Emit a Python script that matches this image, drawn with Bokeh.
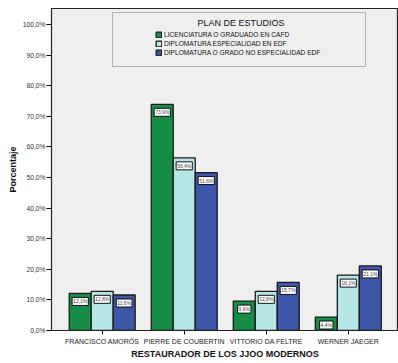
from bokeh.plotting import figure
from bokeh.models import (ColumnDataSource, FixedTicker, Range1d, Legend,
                          LegendItem, BoxAnnotation, Label)
from bokeh.core.properties import value
from bokeh.transform import dodge
from bokeh.embed import file_html
from bokeh.resources import INLINE

# ---- data ----
categories = ["FRANCISCO AMORÓS", "PIERRE DE COUBERTIN", "VITTORIO DA FELTRE", "WERNER JAEGER"]
series_names = ["LICENCIATURA O GRADUADO EN CAFD",
                "DIPLOMATURA ESPECIALIDAD EN EDF",
                "DIPLOMATURA O GRADO NO ESPECIALIDAD EDF"]
licenciatura_cafd = [12.1, 73.9, 9.6, 4.4]
diplomatura_esp_edf = [12.8, 56.4, 12.8, 18.1]
diplomatura_no_esp_edf = [11.6, 51.6, 15.7, 21.1]
y_ticks = [0, 10, 20, 30, 40, 50, 60, 70, 80, 90, 100]
y_tick_labels = ["0,0%", "10,0%", "20,0%", "30,0%", "40,0%", "50,0%",
                 "60,0%", "70,0%", "80,0%", "90,0%", "100,0%"]
legend_title = "PLAN DE ESTUDIOS"
x_title = "RESTAURADOR DE LOS JJOO MODERNOS"
y_title = "Porcentaje"

colors = ["#178c47", "#b6e6e6", "#3d56a8"]
FONT = "Liberation Sans"

xi = list(range(1, len(categories) + 1))

p = figure(width=398, height=363, output_backend="svg", toolbar_location=None,
           x_range=Range1d(0.382, 4.612), y_range=Range1d(0, 105.2),
           min_border_left=51, min_border_right=0, min_border_top=8, min_border_bottom=33)
p.background_fill_color = "#efefef"
p.border_fill_color = "white"
p.outline_line_color = "#222222"
p.outline_line_width = 1.2
p.xgrid.visible = False
p.ygrid.visible = False

bar_w = 0.268
renderers = []
for i, (vals, col) in enumerate(zip([licenciatura_cafd, diplomatura_esp_edf, diplomatura_no_esp_edf], colors)):
    src = ColumnDataSource(dict(
        x=xi, top=vals,
        lbl=[("%.1f%%" % v).replace(".", ",") for v in vals]))
    off = (i - 1) * bar_w
    r = p.vbar(x=dodge("x", off, range=p.x_range), top="top", width=bar_w, source=src,
               fill_color=col, line_color="#1a1a1a", line_width=1.3)
    renderers.append(r)
    p.text(x=dodge("x", off, range=p.x_range), y="top", text="lbl", source=src,
           y_offset=4, text_align="center", text_baseline="top",
           text_font=value(FONT), text_font_size=value("5px"), text_color="#444444",
           background_fill_color="white", border_line_color="#111111",
           border_line_width=1, padding=(1, 1))

# axes
p.xaxis.ticker = FixedTicker(ticks=xi)
p.xaxis.major_label_overrides = {x: c for x, c in zip(xi, categories)}
p.xaxis.minor_tick_line_color = None
p.xaxis.major_tick_out = 4
p.xaxis.major_tick_in = 0
p.xaxis.major_label_standoff = 3
p.xaxis.major_label_text_font = FONT
p.xaxis.major_label_text_font_size = "7px"
p.xaxis.major_label_text_color = "#222222"
p.xaxis.axis_label = x_title
p.xaxis.axis_label_text_font = FONT
p.xaxis.axis_label_text_font_size = "9px"
p.xaxis.axis_label_text_font_style = "bold"
p.xaxis.axis_label_text_color = "#111111"
p.xaxis.axis_label_standoff = 1
p.xaxis.axis_line_color = "#222222"

p.yaxis.ticker = FixedTicker(ticks=y_ticks)
p.yaxis.major_label_overrides = {t: l for t, l in zip(y_ticks, y_tick_labels)}
p.yaxis.minor_tick_line_color = None
p.yaxis.major_tick_out = 5
p.yaxis.major_tick_in = 0
p.yaxis.major_label_standoff = 1
p.yaxis.major_label_text_font = FONT
p.yaxis.major_label_text_font_size = "6.7px"
p.yaxis.major_label_text_color = "#333333"
p.yaxis.axis_label = y_title
p.yaxis.axis_label_text_font = FONT
p.yaxis.axis_label_text_font_size = "9px"
p.yaxis.axis_label_text_font_style = "bold"
p.yaxis.axis_label_text_color = "#111111"
p.yaxis.axis_label_standoff = 2
p.yaxis.axis_line_color = "#222222"

# legend box + title
box = BoxAnnotation(left=112, right=365, top=12, bottom=66,
                    left_units="canvas", right_units="canvas",
                    top_units="canvas", bottom_units="canvas",
                    fill_alpha=0, line_color="#222222", line_width=1)
p.add_layout(box)
p.add_layout(Label(x=189.5, y=307.3, x_units="screen", y_units="screen", text=legend_title,
                   text_align="center", text_baseline="middle", text_font=FONT,
                   text_font_size="9px", text_color="#111111"))

legend = Legend(items=[LegendItem(label=n, renderers=[r]) for n, r in zip(series_names, renderers)],
                location=(104, 274), border_line_color=None, background_fill_alpha=0,
                padding=0, spacing=2, margin=0, glyph_width=7, glyph_height=7,
                label_height=7, label_standoff=2, label_text_font=FONT,
                label_text_font_size="6.6px", label_text_color="#111111")
p.add_layout(legend)

open("out.html", "w").write(file_html(p, INLINE))
